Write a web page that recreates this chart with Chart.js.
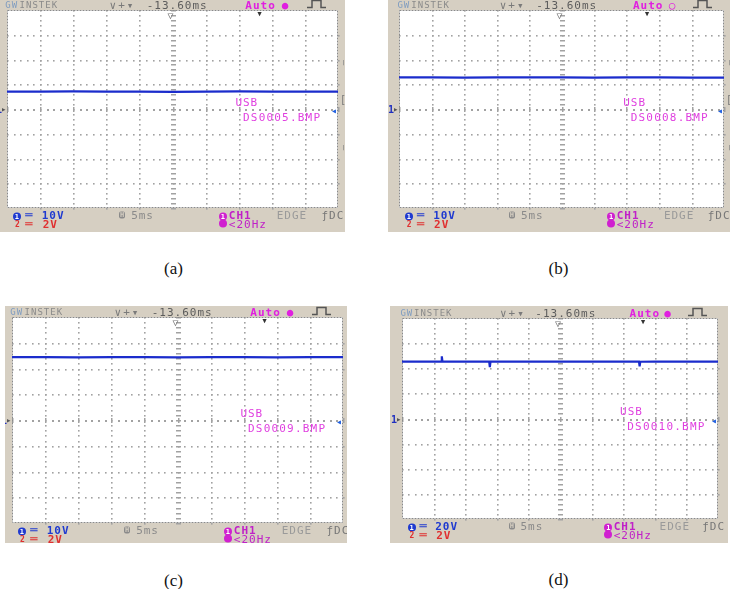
<!DOCTYPE html>
<html><head><meta charset="utf-8">
<script src="https://cdn.jsdelivr.net/npm/chart.js@4"></script>
<style>
html,body{margin:0;padding:0;background:#fff;}
body{width:730px;height:589px;position:relative;overflow:hidden;}
.panel{position:absolute;overflow:hidden;background:#d6cfc2;}
.panel canvas{position:absolute;left:0;top:0;}
.t{position:absolute;white-space:nowrap;font-family:"DejaVu Sans Mono",monospace;font-size:11px;line-height:11px;letter-spacing:1px;transform:translateY(-50%);}
.dotc{display:inline-block;width:8px;height:8px;border-radius:50%;color:#fff;font-size:7px;line-height:8px;text-align:center;font-weight:bold;letter-spacing:0;}
.cap{position:absolute;font-family:"Liberation Serif","Times New Roman",serif;font-size:17px;line-height:17px;transform:translate(-50%,-50%);color:#111;}
</style></head><body>
<script>
// ---- data ----
const panelLabels = ['(a)', '(b)', '(c)', '(d)'];
const fileNames = ['DS0005.BMP', 'DS0008.BMP', 'DS0009.BMP', 'DS0010.BMP'];
const ch1VoltsPerDiv = [10, 10, 10, 20];
const ch2VoltsPerDiv = [2, 2, 2, 2];
const timePerDivMs = 5;
const delayText = '-13.60ms';
const triggerSource = 'CH1';
const triggerType = 'EDGE';
const triggerCoupling = '<20Hz';

const timeA = [-25, -20, -15, -10, -5, 0, 5, 10, 15, 20, 25];
const traceA = [7.0, 7.0, 7.1, 7.0, 7.0, 6.9, 7.0, 7.1, 7.0, 7.0, 7.0];
const timeB = [-25, -20, -15, -10, -5, 0, 5, 10, 15, 20, 25];
const traceB = [12.8, 12.8, 12.7, 12.8, 12.8, 12.8, 12.7, 12.8, 12.8, 12.7, 12.7];
const timeC = [-25, -20, -15, -10, -5, 0, 5, 10, 15, 20, 25];
const traceC = [24.4, 24.4, 24.3, 24.4, 24.4, 24.3, 24.4, 24.4, 24.3, 24.4, 24.4];
const timeD = [-25, -20, -18.8, -18.7, -18.6, -15, -11.2, -11.1, -11.0, -5, 0, 5, 10, 12.5, 12.6, 12.7, 15, 20, 25];
const traceD = [45.3, 45.3, 45.3, 49.5, 45.3, 45.2, 45.2, 40.8, 45.2, 45.2, 45.3, 45.3, 45.2, 45.2, 41.6, 45.2, 45.3, 45.3, 45.3];

const seriesTimes = [timeA, timeB, timeC, timeD];
const seriesValues = [traceA, traceB, traceC, traceD];

// ---- layout (page px) ----
const panels = [
  {x:0,   y:0,   w:345, h:232, gl:7,   gt:10,  gr:338, gb:208, cx:173.5, cy:267.5, dot:'●', side:true},
  {x:388, y:0,   w:342, h:232, gl:399, gt:10,  gr:724, gb:208, cx:558.5, cy:267.5, dot:'○', side:true},
  {x:5,   y:306, w:342, h:237, gl:12,  gt:317, gr:343, gb:523, cx:173.5, cy:580,   dot:'●', side:false},
  {x:390, y:306, w:338, h:237, gl:402, gt:318, gr:718, gb:519, cx:558.5, cy:579,   dot:'●', side:false}
];

const scopeGrid = {
  id: 'scopeGrid',
  beforeDraw(chart) {
    const {ctx, chartArea: a} = chart;
    ctx.save();
    ctx.fillStyle = '#ffffff';
    ctx.fillRect(a.left, a.top, a.right - a.left, a.bottom - a.top);
    ctx.restore();
  },
  beforeDatasetsDraw(chart, args, opts) {
    const {ctx, chartArea: a, scales: {x, y}} = chart;
    const vd = opts.vdiv, td = opts.tdiv;
    ctx.save();
    ctx.fillStyle = '#a2a2a2';
    // vertical division lines
    for (let i = 1; i < 10; i++) {
      const px = Math.round(x.getPixelForValue(-5 * td + i * td));
      for (let k = -20; k <= 20; k++) {
        const py = Math.round(y.getPixelForValue(k * vd / 5));
        if (i === 5) ctx.fillRect(px - 2, py, 5, 1.5);
        else ctx.fillRect(px, py, 1.6, 1.6);
      }
    }
    // horizontal division lines
    for (let j = -3; j <= 3; j++) {
      const py = Math.round(y.getPixelForValue(j * vd));
      for (let k = 0; k <= 50; k++) {
        const px = Math.round(x.getPixelForValue(-5 * td + k * td / 5));
        if (j === 0) {
          if (k % 5 === 0) ctx.fillRect(px, py - 2, 1.5, 5);
          else ctx.fillRect(px, py, 2, 2);
        } else ctx.fillRect(px, py, 1.6, 1.6);
      }
    }
    // dashed border
    ctx.strokeStyle = '#8a8a8a';
    ctx.lineWidth = 1;
    ctx.setLineDash([2, 1]);
    ctx.strokeRect(a.left + 0.5, a.top + 0.5, a.right - a.left - 1, a.bottom - a.top - 1);
    ctx.restore();
  }
};

function addText(div, p, u, dx, ref, dy, text, css) {
  const s = document.createElement('span');
  s.className = 't';
  s.textContent = text;
  const gx = p.gl + u * (p.gr - p.gl) / 10 + dx;
  const ry = ref === 'T' ? p.gt : (ref === 'B' ? p.gb : (p.gt + p.gb) / 2);
  s.style.left = (gx - p.x) + 'px';
  s.style.top = (ry + dy - p.y) + 'px';
  if (css) s.style.cssText += css;
  div.appendChild(s);
  return s;
}
function addBadge(div, p, u, ref, dy, text, bg) {
  const s = addText(div, p, u, 0, ref, dy, '', '');
  const b = document.createElement('span');
  b.className = 'dotc';
  b.style.background = bg;
  b.textContent = text;
  s.appendChild(b);
  return s;
}

panels.forEach((p, i) => {
  const div = document.createElement('div');
  div.className = 'panel';
  div.style.left = p.x + 'px'; div.style.top = p.y + 'px';
  div.style.width = p.w + 'px'; div.style.height = p.h + 'px';
  document.body.appendChild(div);
  const cv = document.createElement('canvas');
  cv.width = p.w; cv.height = p.h;
  cv.style.width = p.w + 'px'; cv.style.height = p.h + 'px';
  div.appendChild(cv);

  const vd = ch1VoltsPerDiv[i];
  const times = seriesTimes[i], vals = seriesValues[i];
  new Chart(cv, {
    type: 'line',
    data: {datasets: [{
      data: times.map((t, k) => ({x: t, y: vals[k]})),
      borderColor: '#1b2ccc', borderWidth: 2.2, pointRadius: 0, tension: 0, fill: false
    }]},
    options: {
      responsive: false, animation: false, devicePixelRatio: 1, events: [],
      layout: {padding: {left: p.gl - p.x, top: p.gt - p.y, right: p.x + p.w - p.gr, bottom: p.y + p.h - p.gb}},
      scales: {
        x: {type: 'linear', min: -5 * timePerDivMs, max: 5 * timePerDivMs, display: false},
        y: {type: 'linear', min: -4 * vd, max: 4 * vd, display: false}
      },
      plugins: {legend: {display: false}, tooltip: {enabled: false}, scopeGrid: {vdiv: vd, tdiv: timePerDivMs}}
    },
    plugins: [scopeGrid]
  });

  // header
  addText(div, p, -0.05, 0, 'T', -5, 'GW', 'font-size:9px;letter-spacing:1px;color:#7f9cc0;');
  addText(div, p, 0.38, 0, 'T', -5, 'INSTEK', 'font-size:9px;letter-spacing:1px;color:#8a8a8a;');
  addText(div, p, 3.1, 0, 'T', -5, '∨+▾', 'color:#7a7a7a;letter-spacing:2px;font-size:11px;');
  addText(div, p, 4.22, 0, 'T', -5, delayText, 'color:#5c5c5c;');
  addText(div, p, 7.2, 0, 'T', -5, 'Auto', 'color:#e020e0;font-weight:bold;');
  addText(div, p, 8.3, 0, 'T', -5, p.dot, 'color:#e020e0;font-size:11px;');
  // pulse icon
  const svgNS = 'http://www.w3.org/2000/svg';
  const svg = document.createElementNS(svgNS, 'svg');
  svg.setAttribute('width', '20'); svg.setAttribute('height', '10');
  svg.style.position = 'absolute';
  svg.style.left = (p.gl + 9.05 * (p.gr - p.gl) / 10 - p.x) + 'px';
  svg.style.top = (p.gt - 11 - p.y) + 'px';
  const pl = document.createElementNS(svgNS, 'polyline');
  pl.setAttribute('points', '0,8.5 5,8.5 5,1.5 14,1.5 14,8.5 19,8.5');
  pl.setAttribute('fill', 'none'); pl.setAttribute('stroke', '#555'); pl.setAttribute('stroke-width', '1.5');
  svg.appendChild(pl); div.appendChild(svg);

  // markers inside grid
  addText(div, p, 5, -5, 'T', 4.5, '▽', 'color:#777;font-size:10px;letter-spacing:0;');
  addText(div, p, 7.65, -4, 'T', 3, '▾', 'color:#333;font-size:11px;letter-spacing:0;');
  addText(div, p, 10, -7, 'C', 1, '◂', 'color:#1f5fe0;font-size:10px;letter-spacing:0;');
  addText(div, p, 0, -6, 'C', 0, '▸', 'color:#555;font-size:9px;letter-spacing:0;');
  addText(div, p, 0, -11, 'C', 0, '1', 'color:#2030c0;font-size:10px;font-weight:bold;letter-spacing:0;');
  addText(div, p, 6.9, 0, 'C', -7.5, 'USB', 'color:#e040e0;');
  addText(div, p, 7.13, 0, 'C', 7.5, fileNames[i], 'color:#e040e0;letter-spacing:1.2px;');
  if (p.side) {
    addText(div, p, 10, 3, 'T', 50, '╷', 'color:#888;font-size:9px;letter-spacing:0;');
    addText(div, p, 10, 2, 'C', -10, '[', 'color:#777;font-size:10px;letter-spacing:0;');
    addText(div, p, 10, 3, 'C', 36, '╷', 'color:#888;font-size:9px;letter-spacing:0;');
  }

  // footer row 1
  addBadge(div, p, 0.18, 'B', 7, '1', '#1f3ad0');
  addText(div, p, 0.55, 0, 'B', 7, '═', 'color:#1f3ad0;letter-spacing:0;font-size:12px;');
  addText(div, p, 1.05, 0, 'B', 7, ch1VoltsPerDiv[i] + 'V', 'color:#1f3ad0;font-weight:bold;');
  addText(div, p, 3.38, 0, 'B', 7, 'H', 'color:#d6cfc2;background:#8a8a8a;font-size:7px;line-height:7px;padding:0 1px;border-radius:2px;letter-spacing:0;font-weight:bold;');
  addText(div, p, 3.75, 0, 'B', 7, timePerDivMs + 'ms', 'color:#8a8a8a;');
  addBadge(div, p, 6.4, 'B', 7, '1', '#d020d0');
  addText(div, p, 6.7, 0, 'B', 7, triggerSource, 'color:#c020c8;font-weight:bold;');
  addText(div, p, 8.15, 0, 'B', 7, triggerType, 'color:#9a9a9a;');
  addText(div, p, 9.5, 0, 'B', 7, 'ƒDC', 'color:#777;');
  // footer row 2
  addText(div, p, 0.24, 0, 'B', 15.5, '2', 'color:#e03030;font-size:8px;font-weight:bold;letter-spacing:0;');
  addText(div, p, 0.55, 0, 'B', 15.5, '═', 'color:#e03030;letter-spacing:0;font-size:12px;');
  addText(div, p, 1.08, 0, 'B', 15.5, ch2VoltsPerDiv[i] + 'V', 'color:#e03030;font-weight:bold;');
  addBadge(div, p, 6.4, 'B', 15.5, '', '#d020d0');
  addText(div, p, 6.7, 0, 'B', 15.5, triggerCoupling, 'color:#c020c8;');

  // caption
  const c = document.createElement('div');
  c.className = 'cap';
  c.textContent = panelLabels[i];
  c.style.left = p.cx + 'px'; c.style.top = p.cy + 'px';
  document.body.appendChild(c);
});
</script>
</body></html>
